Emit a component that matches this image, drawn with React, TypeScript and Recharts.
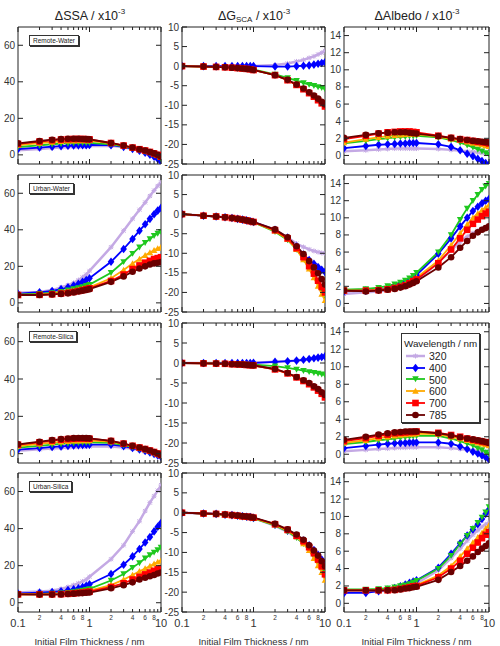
import React from 'react';
import { LineChart, Line, XAxis, YAxis, Legend } from 'recharts';

// film thickness (nm), shared x values of every panel
const thickness = [0.1, 0.2, 0.3, 0.4, 0.5, 0.6, 0.7, 0.8, 0.9, 1, 2, 3, 4, 5, 6, 7, 8, 9, 10];
const wavelengths = ['320', '400', '500', '600', '700', '785'];
const samples = ['Remote-Water', 'Urban-Water', 'Remote-Silica', 'Urban-Silica'];

const ssaTicks = [0, 20, 40, 60];
const gTicks = [-25, -20, -15, -10, -5, 0, 5, 10];
const albedoTicks = [0, 2, 4, 6, 8, 10, 12, 14];

// each panel: one array per wavelength (320, 400, 500, 600, 700, 785)
const remoteWaterSsa = [
  [2.5, 3.2, 3.7, 4.0, 4.2, 4.4, 4.5, 4.6, 4.7, 4.8, 5.0, 4.2, 3.2, 2.3, 1.4, 0.5, -0.5, -1.5, -2.8],
  [3.2, 4.0, 4.5, 4.8, 5.0, 5.1, 5.2, 5.3, 5.3, 5.4, 5.3, 4.4, 3.3, 2.3, 1.2, 0.1, -1.0, -2.3, -3.8],
  [4.3, 5.2, 5.8, 6.1, 6.3, 6.5, 6.6, 6.6, 6.6, 6.6, 5.8, 4.7, 3.6, 2.7, 1.8, 0.9, 0.0, -1.0, -2.2],
  [5.3, 6.4, 7.0, 7.4, 7.6, 7.7, 7.8, 7.8, 7.8, 7.8, 6.3, 5.0, 3.9, 3.0, 2.2, 1.4, 0.6, -0.3, -1.3],
  [6.0, 7.3, 8.0, 8.4, 8.6, 8.7, 8.7, 8.7, 8.6, 8.5, 6.5, 5.1, 4.0, 3.1, 2.4, 1.6, 0.8, 0.0, -1.0],
  [6.3, 7.6, 8.3, 8.6, 8.8, 8.8, 8.8, 8.7, 8.6, 8.5, 6.5, 5.1, 4.0, 3.1, 2.4, 1.6, 0.8, 0.0, -0.9],
];
const remoteWaterG = [
  [0, 0, 0, 0, 0, 0, 0, 0, 0, 0, 0.3, 0.7, 1.2, 1.6, 2.1, 2.5, 3.0, 3.4, 3.9],
  [0, 0, 0, 0, 0, 0, 0, 0, 0, 0, -0.1, -0.1, 0.0, 0.1, 0.2, 0.4, 0.6, 0.8, 1.0],
  [0, -0.1, -0.2, -0.3, -0.4, -0.5, -0.6, -0.7, -0.8, -0.9, -2.1, -3.0, -3.7, -4.3, -4.7, -5.0, -5.3, -5.5, -5.8],
  [0, -0.1, -0.2, -0.3, -0.4, -0.5, -0.6, -0.7, -0.8, -1.0, -2.3, -3.6, -4.8, -5.9, -6.8, -7.7, -8.5, -9.3, -10.0],
  [0, -0.1, -0.2, -0.3, -0.4, -0.5, -0.6, -0.7, -0.8, -1.0, -2.3, -3.6, -4.8, -5.9, -6.9, -7.8, -8.7, -9.5, -10.3],
  [0, -0.1, -0.2, -0.3, -0.4, -0.5, -0.6, -0.7, -0.8, -1.0, -2.3, -3.5, -4.7, -5.7, -6.7, -7.5, -8.3, -9.1, -9.8],
];
const remoteWaterAlbedo = [
  [0.5, 0.6, 0.7, 0.75, 0.8, 0.8, 0.8, 0.8, 0.8, 0.8, 0.75, 0.65, 0.55, 0.45, 0.4, 0.35, 0.3, 0.25, 0.2],
  [0.85, 1.1, 1.25, 1.3, 1.35, 1.4, 1.4, 1.45, 1.45, 1.45, 1.3, 1.0, 0.6, 0.2, -0.1, -0.4, -0.65, -0.9, -1.1],
  [1.4, 1.7, 1.9, 2.0, 2.1, 2.15, 2.2, 2.25, 2.25, 2.3, 2.1, 1.8, 1.5, 1.2, 0.95, 0.7, 0.5, 0.3, 0.1],
  [1.5, 1.9, 2.1, 2.25, 2.35, 2.4, 2.45, 2.5, 2.5, 2.5, 2.2, 1.95, 1.75, 1.6, 1.45, 1.35, 1.25, 1.15, 1.05],
  [1.9, 2.3, 2.55, 2.7, 2.75, 2.8, 2.8, 2.8, 2.75, 2.7, 2.3, 2.05, 1.9, 1.8, 1.7, 1.6, 1.55, 1.5, 1.4],
  [2.05, 2.4, 2.6, 2.65, 2.7, 2.7, 2.7, 2.65, 2.6, 2.55, 2.25, 2.05, 1.9, 1.8, 1.7, 1.65, 1.6, 1.55, 1.5],
];

const urbanWaterSsa = [
  [5.5, 6.0, 7.0, 8.5, 9.7, 11.0, 12.5, 14.0, 15.5, 17.5, 30.5, 39.5, 46.0, 51.0, 55.0, 58.5, 61.5, 64.0, 66.0],
  [5.0, 5.8, 6.5, 7.5, 8.5, 9.5, 10.5, 11.5, 12.5, 13.5, 22.5, 29.5, 35.0, 39.5, 43.0, 46.0, 48.5, 50.5, 52.0],
  [4.5, 5.0, 5.5, 6.2, 7.0, 7.6, 8.2, 8.8, 9.4, 10.0, 16.5, 22.5, 27.0, 30.5, 33.0, 35.0, 36.8, 38.0, 39.0],
  [4.5, 4.6, 5.0, 5.4, 6.0, 6.5, 7.0, 7.6, 8.0, 8.5, 13.5, 18.0, 21.5, 24.0, 26.0, 27.5, 28.8, 29.8, 30.5],
  [4.3, 4.4, 4.7, 5.1, 5.5, 6.0, 6.5, 7.0, 7.5, 8.0, 12.0, 15.5, 18.5, 20.5, 22.0, 23.0, 24.0, 24.5, 25.0],
  [4.3, 4.3, 4.6, 4.9, 5.2, 5.7, 6.2, 6.7, 7.1, 7.5, 11.5, 14.5, 17.0, 18.8, 20.0, 21.0, 21.6, 22.0, 22.3],
];
const urbanWaterG = [
  [0, -0.4, -0.6, -0.8, -1.0, -1.2, -1.4, -1.6, -1.8, -2.0, -4.0, -6.0, -7.5, -8.4, -9.0, -9.4, -9.7, -9.9, -10.0],
  [0, -0.4, -0.6, -0.8, -1.0, -1.2, -1.4, -1.6, -1.8, -2.0, -4.0, -6.0, -8.3, -10.3, -11.7, -12.7, -13.5, -14.2, -14.8],
  [0, -0.4, -0.6, -0.9, -1.1, -1.3, -1.5, -1.7, -1.9, -2.1, -4.5, -6.6, -9.0, -11.5, -13.6, -15.6, -17.5, -19.2, -20.9],
  [0, -0.4, -0.6, -0.8, -1.0, -1.2, -1.4, -1.6, -1.8, -2.0, -4.3, -6.4, -9.0, -11.6, -14.0, -16.2, -18.4, -20.4, -22.0],
  [0, -0.4, -0.6, -0.8, -1.0, -1.2, -1.4, -1.6, -1.8, -2.0, -4.1, -6.2, -8.7, -11.0, -13.3, -15.2, -17.0, -18.6, -20.0],
  [0, -0.4, -0.6, -0.8, -1.0, -1.2, -1.4, -1.6, -1.8, -2.0, -3.9, -5.9, -8.2, -10.2, -12.0, -13.6, -15.1, -16.6, -18.0],
];
const urbanWaterAlbedo = [
  [1.1, 1.3, 1.4, 1.55, 1.7, 1.85, 2.0, 2.2, 2.4, 2.6, 4.8, 6.2, 7.2, 7.8, 8.2, 8.5, 8.7, 8.8, 8.9],
  [1.4, 1.5, 1.65, 1.8, 2.0, 2.2, 2.4, 2.7, 3.0, 3.3, 5.8, 7.6, 9.0, 10.0, 10.8, 11.3, 11.7, 12.0, 12.2],
  [1.6, 1.7, 1.85, 2.05, 2.25, 2.45, 2.7, 2.95, 3.25, 3.6, 6.0, 8.0, 9.8, 11.1, 12.0, 12.7, 13.3, 13.7, 14.0],
  [1.5, 1.5, 1.6, 1.7, 1.85, 2.0, 2.2, 2.45, 2.7, 3.0, 5.0, 6.8, 8.2, 9.2, 10.0, 10.5, 10.9, 11.2, 11.5],
  [1.5, 1.5, 1.55, 1.65, 1.8, 1.95, 2.1, 2.35, 2.6, 2.8, 4.7, 6.3, 7.6, 8.6, 9.3, 9.8, 10.2, 10.5, 10.7],
  [1.5, 1.4, 1.5, 1.6, 1.7, 1.85, 2.0, 2.2, 2.4, 2.6, 4.2, 5.4, 6.5, 7.3, 7.9, 8.3, 8.6, 8.8, 9.0],
];

const remoteSilicaSsa = [
  [1.5, 2.3, 2.8, 3.1, 3.3, 3.5, 3.6, 3.7, 3.8, 3.8, 3.9, 3.3, 2.6, 1.9, 1.2, 0.5, -0.2, -0.9, -1.6],
  [2.2, 3.0, 3.6, 3.9, 4.2, 4.4, 4.6, 4.7, 4.8, 4.8, 4.8, 4.0, 3.0, 2.2, 1.4, 0.6, -0.2, -0.9, -1.6],
  [3.2, 4.2, 4.8, 5.2, 5.5, 5.7, 5.9, 6.0, 6.0, 6.0, 5.8, 4.6, 3.5, 2.6, 1.8, 1.0, 0.2, -0.5, -1.2],
  [4.0, 5.2, 5.9, 6.3, 6.6, 6.8, 6.9, 7.0, 7.0, 7.0, 6.4, 5.1, 3.9, 3.0, 2.2, 1.4, 0.6, -0.1, -0.9],
  [4.8, 6.1, 7.0, 7.5, 7.8, 8.0, 8.1, 8.1, 8.1, 8.0, 6.8, 5.4, 4.2, 3.3, 2.5, 1.7, 0.9, 0.1, -0.7],
  [5.0, 6.4, 7.3, 7.8, 8.1, 8.3, 8.4, 8.4, 8.3, 8.2, 6.9, 5.4, 4.2, 3.3, 2.5, 1.7, 0.9, 0.1, -0.7],
];
const remoteSilicaG = [
  [0, 0, 0, 0, 0, 0, 0, 0, 0, 0.05, 0.3, 0.45, 0.6, 0.8, 1.0, 1.2, 1.35, 1.5, 1.65],
  [0, 0, 0, 0, 0, 0, 0, 0, 0, 0.05, 0.3, 0.45, 0.6, 0.8, 1.0, 1.2, 1.35, 1.5, 1.65],
  [0, -0.05, -0.1, -0.15, -0.2, -0.25, -0.3, -0.35, -0.4, -0.4, -0.8, -1.2, -1.6, -1.9, -2.2, -2.4, -2.6, -2.8, -3.0],
  [0, -0.1, -0.15, -0.2, -0.3, -0.35, -0.4, -0.5, -0.55, -0.6, -1.6, -2.6, -3.6, -4.4, -5.2, -6.0, -6.8, -7.6, -8.4],
  [0, -0.1, -0.15, -0.2, -0.3, -0.35, -0.4, -0.5, -0.55, -0.6, -1.6, -2.6, -3.6, -4.5, -5.3, -6.1, -6.9, -7.7, -8.6],
  [0, -0.1, -0.15, -0.2, -0.3, -0.35, -0.4, -0.5, -0.55, -0.6, -1.5, -2.5, -3.5, -4.3, -5.0, -5.8, -6.5, -7.3, -8.0],
];
const remoteSilicaAlbedo = [
  [0.35, 0.5, 0.6, 0.65, 0.7, 0.75, 0.75, 0.8, 0.8, 0.8, 0.8, 0.7, 0.6, 0.5, 0.45, 0.4, 0.35, 0.3, 0.25],
  [0.7, 0.95, 1.1, 1.2, 1.25, 1.3, 1.3, 1.35, 1.35, 1.35, 1.35, 1.2, 0.9, 0.6, 0.3, 0.1, -0.15, -0.35, -0.6],
  [1.15, 1.4, 1.6, 1.7, 1.8, 1.9, 1.95, 2.0, 2.05, 2.1, 2.1, 1.8, 1.5, 1.2, 1.0, 0.7, 0.5, 0.2, 0.0],
  [1.3, 1.6, 1.85, 2.0, 2.1, 2.2, 2.25, 2.3, 2.3, 2.35, 2.3, 2.0, 1.8, 1.6, 1.45, 1.3, 1.2, 1.1, 1.0],
  [1.5, 1.85, 2.1, 2.25, 2.4, 2.45, 2.5, 2.55, 2.55, 2.6, 2.45, 2.2, 2.0, 1.8, 1.65, 1.55, 1.45, 1.38, 1.3],
  [1.65, 2.0, 2.25, 2.4, 2.5, 2.55, 2.6, 2.6, 2.6, 2.6, 2.4, 2.15, 1.95, 1.8, 1.7, 1.6, 1.5, 1.4, 1.3],
];

const urbanSilicaSsa = [
  [5.5, 6.0, 6.5, 7.5, 8.5, 9.5, 10.5, 11.5, 12.5, 14.0, 23.5, 31.0, 38.5, 44.0, 49.5, 54.0, 57.5, 60.5, 63.5],
  [5.0, 5.5, 5.8, 6.2, 6.8, 7.3, 7.8, 8.5, 9.2, 10.0, 15.5, 20.5, 25.0, 29.0, 32.5, 35.5, 38.5, 41.0, 43.0],
  [4.7, 4.8, 5.0, 5.2, 5.5, 5.9, 6.3, 6.7, 7.1, 7.5, 12.0, 15.5, 19.0, 21.5, 24.0, 25.8, 27.2, 28.5, 29.8],
  [4.5, 4.5, 4.6, 4.8, 5.0, 5.3, 5.6, 5.9, 6.2, 6.5, 9.5, 12.5, 15.0, 17.0, 18.5, 19.8, 21.0, 22.0, 22.8],
  [4.5, 4.5, 4.5, 4.6, 4.8, 5.0, 5.3, 5.5, 5.8, 6.0, 8.5, 10.5, 12.5, 14.0, 15.3, 16.3, 17.2, 18.0, 18.5],
  [4.5, 4.4, 4.4, 4.5, 4.7, 4.9, 5.1, 5.2, 5.4, 5.5, 7.8, 9.5, 11.0, 12.5, 13.5, 14.3, 15.0, 15.8, 16.3],
];
const urbanSilicaG = [
  [0, -0.2, -0.35, -0.5, -0.65, -0.8, -0.95, -1.1, -1.2, -1.35, -3.3, -4.8, -6.3, -7.6, -8.8, -10.0, -11.0, -12.0, -13.0],
  [0, -0.2, -0.3, -0.5, -0.6, -0.75, -0.9, -1.0, -1.1, -1.3, -3.0, -4.5, -5.8, -7.0, -8.2, -9.4, -10.6, -11.8, -13.0],
  [0, -0.25, -0.4, -0.55, -0.7, -0.85, -1.0, -1.15, -1.3, -1.45, -3.2, -4.7, -6.3, -7.8, -9.3, -10.8, -12.2, -13.6, -15.0],
  [0, -0.2, -0.35, -0.5, -0.65, -0.8, -0.95, -1.1, -1.2, -1.35, -3.0, -4.5, -6.0, -7.8, -9.5, -11.5, -13.3, -15.0, -17.0],
  [0, -0.2, -0.3, -0.45, -0.6, -0.75, -0.9, -1.0, -1.1, -1.25, -2.9, -4.3, -5.8, -7.2, -8.7, -10.2, -11.8, -13.5, -15.5],
  [0, -0.2, -0.3, -0.45, -0.6, -0.7, -0.85, -0.95, -1.05, -1.2, -2.8, -4.2, -5.5, -6.8, -8.2, -9.5, -10.8, -12.2, -13.5],
];
const urbanSilicaAlbedo = [
  [1.3, 1.35, 1.4, 1.45, 1.55, 1.7, 1.85, 2.0, 2.15, 2.3, 3.8, 5.2, 6.3, 7.2, 7.9, 8.4, 8.8, 9.1, 9.3],
  [1.2, 1.2, 1.4, 1.55, 1.75, 1.95, 2.15, 2.35, 2.5, 2.65, 4.1, 5.7, 6.9, 7.8, 8.5, 9.1, 9.7, 10.3, 10.8],
  [1.6, 1.6, 1.65, 1.75, 1.85, 2.0, 2.1, 2.25, 2.4, 2.6, 4.0, 5.5, 6.8, 7.8, 8.6, 9.3, 9.9, 10.5, 11.1],
  [1.5, 1.5, 1.5, 1.55, 1.6, 1.7, 1.8, 1.9, 2.0, 2.1, 3.2, 4.3, 5.4, 6.3, 7.0, 7.6, 8.1, 8.6, 9.0],
  [1.5, 1.5, 1.5, 1.5, 1.55, 1.65, 1.75, 1.85, 1.95, 2.0, 3.0, 4.0, 4.9, 5.7, 6.4, 7.0, 7.5, 7.9, 8.2],
  [1.5, 1.5, 1.5, 1.5, 1.5, 1.6, 1.7, 1.75, 1.85, 1.9, 2.7, 3.6, 4.3, 4.9, 5.4, 5.9, 6.3, 6.6, 6.9],
];

const COLORS = ['#c4a9e4', '#0000ff', '#1fc81f', '#ffaa00', '#ff0000', '#6a0000'];
const SHAPES = ['star', 'diamond', 'triDown', 'triUp', 'square', 'circle'];
const AXIS = '#222';
const TEXT = '#333';
const FONT = 'Arial, "Liberation Sans", Helvetica, sans-serif';

const COL_LEFT = [18, 182, 344];
const COL_WIDTH = [143, 143, 145];
const ROW_TOP = [27, 175, 323, 473];
const ROW_HEIGHT = [137, 137, 140, 139];
const LEFT_PAD = 26;
const TOP_PAD = 4;
const RIGHT_PAD = 4;

const columns = [
  { domain: [-5, 70], ticks: ssaTicks },
  { domain: [-25, 10], ticks: gTicks },
  { domain: [-1, 15], ticks: albedoTicks },
];
const panels = [
  [remoteWaterSsa, remoteWaterG, remoteWaterAlbedo],
  [urbanWaterSsa, urbanWaterG, urbanWaterAlbedo],
  [remoteSilicaSsa, remoteSilicaG, remoteSilicaAlbedo],
  [urbanSilicaSsa, urbanSilicaG, urbanSilicaAlbedo],
];

function Marker({ cx, cy, shape, color }: any) {
  if (cx == null || cy == null || isNaN(cx) || isNaN(cy)) return null;
  const s = 3.3;
  switch (shape) {
    case 'diamond':
      return <polygon points={`${cx},${cy - s - 1} ${cx + s},${cy} ${cx},${cy + s + 1} ${cx - s},${cy}`} fill={color} />;
    case 'triDown':
      return <polygon points={`${cx - s},${cy - s * 0.8} ${cx + s},${cy - s * 0.8} ${cx},${cy + s}`} fill={color} />;
    case 'triUp':
      return <polygon points={`${cx - s},${cy + s * 0.8} ${cx + s},${cy + s * 0.8} ${cx},${cy - s}`} fill={color} />;
    case 'square':
      return <rect x={cx - s} y={cy - s} width={s * 2} height={s * 2} fill={color} />;
    case 'circle':
      return <circle cx={cx} cy={cy} r={s} fill={color} />;
    default:
      return (
        <g stroke={color} strokeWidth={1}>
          <line x1={cx - 2.5} y1={cy} x2={cx + 2.5} y2={cy} />
          <line x1={cx} y1={cy - 2.5} x2={cx} y2={cy + 2.5} />
          <line x1={cx - 2} y1={cy - 2} x2={cx + 2} y2={cy + 2} />
          <line x1={cx - 2} y1={cy + 2} x2={cx + 2} y2={cy - 2} />
        </g>
      );
  }
}

const decade = (v: number) => Math.pow(10, Math.floor(Math.log10(v) + 1e-9));
const isMajor = (v: number) => Math.abs(v / decade(v) - 1) < 1e-6;

// all ticks point into the plot, as in the original figure
function BottomTick({ x, y, payload, labelled }: any) {
  const v = payload.value;
  const major = isMajor(v);
  const m = Math.round(v / decade(v));
  return (
    <g>
      <line x1={x} y1={y} x2={x} y2={y - (major ? 5 : 3)} stroke={AXIS} />
      {labelled && major && (
        <text x={x} y={y + 15} textAnchor="middle" fontSize={11} fill={TEXT}>{v === 0.1 ? '0.1' : String(v)}</text>
      )}
      {labelled && !major && m % 2 === 0 && (
        <text x={x} y={y + 8} textAnchor="middle" fontSize={6.5} fill={TEXT}>{m}</text>
      )}
    </g>
  );
}

function TopTick({ x, y, payload }: any) {
  const major = isMajor(payload.value);
  return <line x1={x} y1={y} x2={x} y2={y + (major ? 5 : 3)} stroke={AXIS} />;
}

function LeftTick({ x, y, payload }: any) {
  return (
    <g>
      <line x1={x} y1={y} x2={x + 5} y2={y} stroke={AXIS} />
      <text x={x - 3} y={y} dy="0.35em" textAnchor="end" fontSize={10} fill={TEXT}>{payload.value}</text>
    </g>
  );
}

function RightTick({ x, y }: any) {
  return <line x1={x - 5} y1={y} x2={x} y2={y} stroke={AXIS} />;
}

function WavelengthLegend() {
  return (
    <div
      style={{
        width: 79, height: 90, boxSizing: 'border-box', background: '#fff',
        border: '1px solid #333', boxShadow: '1px 1px 0 #333', padding: '3px 0 0 2px',
        fontFamily: FONT, color: '#222',
      }}
    >
      <div style={{ fontSize: 9.8, lineHeight: '13px', whiteSpace: 'nowrap' }}>Wavelength / nm</div>
      {wavelengths.map((w, k) => (
        <div key={w} style={{ display: 'flex', alignItems: 'center', height: 11.8 }}>
          <svg width={22} height={10} style={{ overflow: 'visible' }}>
            <line x1={2} y1={5} x2={21} y2={5} stroke={COLORS[k]} strokeWidth={k === 0 ? 2.5 : 1.8} />
            <Marker cx={11.5} cy={5} shape={SHAPES[k]} color={COLORS[k]} />
          </svg>
          <span style={{ fontSize: 10.5, marginLeft: 3, lineHeight: '12px' }}>{w}</span>
        </div>
      ))}
    </div>
  );
}

function Panel({ row, col }: { row: number; col: number }) {
  const series = panels[row][col];
  const { domain, ticks } = columns[col];
  const data = thickness.map((t, i) => {
    const d: any = { t };
    series.forEach((s, k) => { d[`s${k}`] = s[i]; });
    return d;
  });
  const last = row === 3;
  const bottomPad = last ? 30 : 4;
  const width = LEFT_PAD + COL_WIDTH[col] + RIGHT_PAD;
  const height = TOP_PAD + ROW_HEIGHT[row] + bottomPad;
  return (
    <div style={{ position: 'absolute', left: COL_LEFT[col] - LEFT_PAD, top: ROW_TOP[row] - TOP_PAD }}>
      <LineChart width={width} height={height} data={data} margin={{ top: 0, right: 0, bottom: 0, left: 0 }}>
        <XAxis
          xAxisId="b" dataKey="t" type="number" scale="log" domain={[0.1, 10]} ticks={thickness} interval={0}
          allowDataOverflow height={bottomPad} tickSize={0} tickMargin={0} tickLine={false}
          axisLine={{ stroke: AXIS }} tick={(p: any) => <BottomTick {...p} labelled={last} />}
          label={last ? { value: 'Initial Film Thickness / nm', position: 'insideBottom', offset: -3, fontSize: 9.6, fill: TEXT } : undefined}
        />
        <XAxis
          xAxisId="t" orientation="top" dataKey="t" type="number" scale="log" domain={[0.1, 10]} ticks={thickness}
          interval={0} allowDataOverflow height={TOP_PAD} tickSize={0} tickMargin={0} tickLine={false}
          axisLine={{ stroke: AXIS }} tick={(p: any) => <TopTick {...p} />}
        />
        <YAxis
          yAxisId="l" type="number" domain={domain} ticks={ticks} interval={0} allowDataOverflow width={LEFT_PAD}
          tickSize={0} tickMargin={0} tickLine={false} axisLine={{ stroke: AXIS }} tick={(p: any) => <LeftTick {...p} />}
        />
        <YAxis
          yAxisId="r" orientation="right" type="number" domain={domain} ticks={ticks} interval={0} allowDataOverflow
          width={RIGHT_PAD} tickSize={0} tickMargin={0} tickLine={false} axisLine={{ stroke: AXIS }}
          tick={(p: any) => <RightTick {...p} />}
        />
        {wavelengths.map((w, k) => (
          <Line
            key={w} name={w} xAxisId="b" yAxisId="l" dataKey={`s${k}`} type="linear"
            stroke={COLORS[k]} strokeWidth={k === 0 ? 2.5 : 1.8} isAnimationActive={false}
            dot={(p: any) => <Marker key={`${w}-${p.index}`} cx={p.cx} cy={p.cy} shape={SHAPES[k]} color={COLORS[k]} />}
            activeDot={false}
          />
        ))}
        {row === 2 && col === 2 && (
          <Legend
            layout="horizontal" verticalAlign="middle" align="center"
            wrapperStyle={{ left: 83, top: 14, width: 79, height: 90 }}
            content={() => <WavelengthLegend />}
          />
        )}
      </LineChart>
      {col === 0 && (
        <div
          style={{
            position: 'absolute', left: LEFT_PAD + 11, top: TOP_PAD + 8, padding: '0 3px', height: 9,
            lineHeight: '9px', fontSize: 6.5, color: '#222', background: '#fff',
            border: '1px solid #333', boxShadow: '1px 1px 0 #333', whiteSpace: 'nowrap',
          }}
        >
          {samples[row]}
        </div>
      )}
    </div>
  );
}

const titleStyle: React.CSSProperties = {
  position: 'absolute', top: 8, fontSize: 12.5, lineHeight: '16px', color: '#222', whiteSpace: 'nowrap',
  transform: 'translateX(-50%)',
};
const supStyle: React.CSSProperties = { fontSize: 8, verticalAlign: 0, position: 'relative', top: -6, lineHeight: 0 };
const subStyle: React.CSSProperties = { fontSize: 8, verticalAlign: 0, position: 'relative', top: 2, lineHeight: 0 };

export default function App() {
  return (
    <div style={{ position: 'absolute', left: 0, top: 0, width: 500, height: 646, background: '#fff', fontFamily: FONT, overflow: 'hidden' }}>
      <style>{'.recharts-surface { overflow: visible; }'}</style>
      <div style={{ ...titleStyle, left: 90 }}>ΔSSA / x10<span style={supStyle}>-3</span></div>
      <div style={{ ...titleStyle, left: 254 }}>ΔG<span style={subStyle}>SCA</span> / x10<span style={supStyle}>-3</span></div>
      <div style={{ ...titleStyle, left: 417 }}>ΔAlbedo / x10<span style={supStyle}>-3</span></div>
      {panels.map((r, row) => r.map((_, col) => <Panel key={`${row}-${col}`} row={row} col={col} />))}
    </div>
  );
}
